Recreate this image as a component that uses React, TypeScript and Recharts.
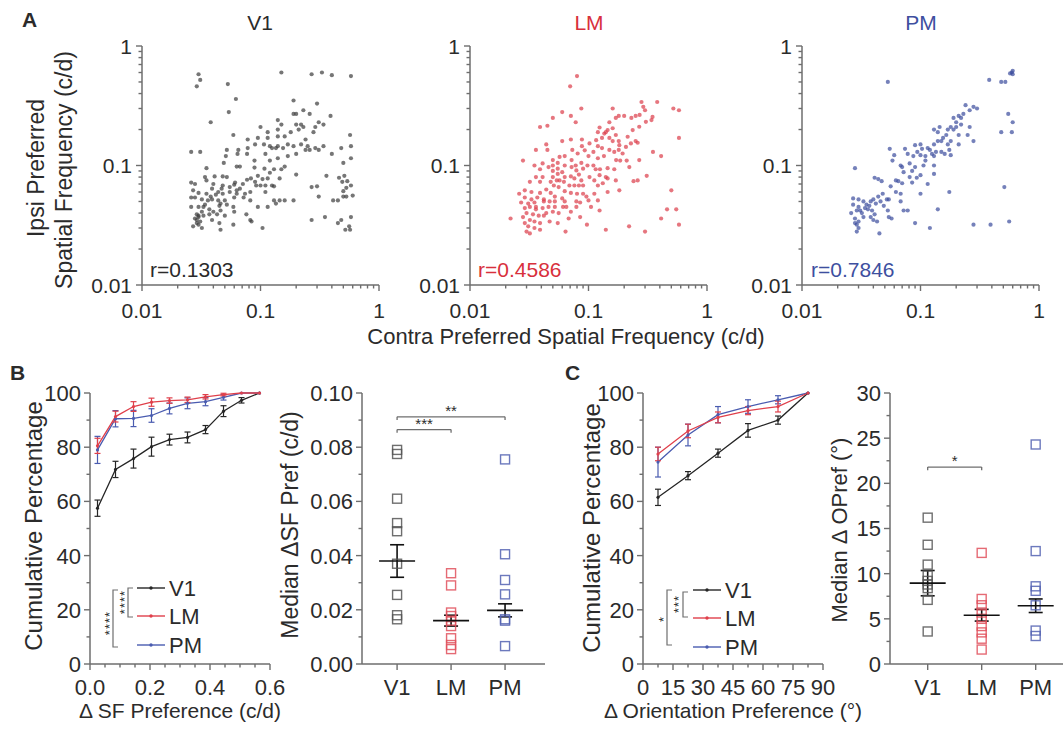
import React from 'react';
import { ScatterChart, Scatter, XAxis, YAxis, ComposedChart, Line, ErrorBar, ReferenceLine } from 'recharts';

const FONT = "Arial, 'Liberation Sans', Helvetica, sans-serif";
const AXIS = '#6e6e6e';
const TEXT = '#2b2b2b';
const RED = '#d8303c';
const BLUE = '#3e4f9f';
const DARK = '#262626';

// ---------- Panel A : contra vs ipsi preferred SF (c/d) ----------
const v1Pairs: [number, number][] = [
  [0.03,0.58],[0.031,0.52],[0.029,0.46],[0.053,0.48],[0.062,0.36],[0.15,0.6],[0.27,0.58],[0.33,0.6],[0.4,0.57],[0.58,0.56],
  [0.038,0.23],[0.054,0.28],[0.19,0.35],[0.3,0.33],[0.19,0.27],[0.2,0.27],[0.23,0.29],[0.26,0.27],[0.39,0.26],[0.31,0.23],
  [0.34,0.22],[0.29,0.21],[0.14,0.24],[0.15,0.22],[0.2,0.22],[0.22,0.22],[0.23,0.21],[0.21,0.2],[0.18,0.19],[0.1,0.21],
  [0.115,0.19],[0.14,0.2],[0.57,0.18],[0.059,0.18],[0.078,0.165],[0.095,0.17],[0.115,0.17],[0.14,0.175],[0.16,0.175],
  [0.107,0.15],[0.12,0.145],[0.125,0.14],[0.135,0.14],[0.14,0.145],[0.155,0.14],[0.17,0.15],[0.19,0.145],[0.22,0.15],
  [0.24,0.135],[0.26,0.135],[0.31,0.135],[0.34,0.145],[0.4,0.125],[0.48,0.14],[0.58,0.145],[0.052,0.135],[0.065,0.135],
  [0.078,0.14],[0.09,0.15],[0.026,0.13],[0.031,0.13],[0.051,0.12],[0.064,0.125],[0.077,0.125],[0.089,0.11],[0.11,0.125],
  [0.12,0.11],[0.14,0.115],[0.58,0.115],[0.5,0.105],[0.035,0.095],[0.049,0.105],[0.063,0.098],[0.067,0.098],[0.089,0.096],
  [0.108,0.094],[0.13,0.093],[0.15,0.093],[0.2,0.084],[0.048,0.081],[0.041,0.081],[0.034,0.08],[0.026,0.072],[0.028,0.07],
  [0.035,0.075],[0.04,0.07],[0.048,0.068],[0.052,0.08],[0.061,0.072],[0.077,0.076],[0.083,0.078],[0.09,0.073],[0.104,0.077],
  [0.115,0.078],[0.145,0.078],[0.092,0.068],[0.1,0.068],[0.11,0.068],[0.125,0.068],[0.13,0.067],[0.11,0.06],[0.082,0.06],
  [0.074,0.058],[0.063,0.062],[0.06,0.069],[0.055,0.06],[0.048,0.058],[0.044,0.06],[0.039,0.064],[0.035,0.058],[0.03,0.059],
  [0.027,0.062],[0.026,0.054],[0.028,0.054],[0.032,0.052],[0.036,0.051],[0.039,0.052],[0.044,0.051],[0.046,0.048],[0.05,0.051],
  [0.06,0.054],[0.063,0.058],[0.072,0.054],[0.082,0.051],[0.13,0.051],[0.145,0.051],[0.16,0.051],[0.19,0.051],[0.27,0.066],
  [0.3,0.067],[0.36,0.082],[0.46,0.079],[0.49,0.073],[0.51,0.082],[0.54,0.074],[0.58,0.068],[0.53,0.065],[0.5,0.061],
  [0.6,0.056],[0.53,0.055],[0.5,0.055],[0.31,0.055],[0.41,0.051],[0.45,0.051],[0.026,0.045],[0.03,0.045],[0.033,0.045],
  [0.037,0.043],[0.045,0.046],[0.052,0.047],[0.059,0.045],[0.095,0.045],[0.115,0.045],[0.135,0.048],[0.046,0.042],[0.04,0.041],
  [0.06,0.041],[0.029,0.039],[0.03,0.038],[0.033,0.038],[0.037,0.039],[0.043,0.039],[0.05,0.038],[0.076,0.039],[0.082,0.035],
  [0.029,0.035],[0.031,0.034],[0.039,0.035],[0.045,0.033],[0.059,0.032],[0.03,0.032],[0.027,0.031],[0.032,0.03],[0.046,0.029],
  [0.084,0.034],[0.104,0.03],[0.27,0.035],[0.35,0.037],[0.45,0.033],[0.48,0.035],[0.58,0.037],[0.56,0.031],[0.52,0.029],[0.57,0.029],
  [0.028,0.036],[0.03,0.037],[0.029,0.033],[0.032,0.041],[0.034,0.047],[0.038,0.055],[0.042,0.057],[0.047,0.064],[0.055,0.066],
  [0.067,0.064],[0.071,0.07],[0.095,0.082],[0.12,0.087],[0.16,0.098],[0.17,0.12],[0.2,0.125],[0.24,0.165],[0.28,0.19],
  [0.25,0.145],[0.29,0.14],
];

const lmPairs: [number, number][] = [
  [0.08,0.56],[0.07,0.46],[0.087,0.3],[0.06,0.28],[0.05,0.25],[0.071,0.26],[0.078,0.23],[0.039,0.21],[0.045,0.215],
  [0.16,0.3],[0.17,0.25],[0.18,0.26],[0.2,0.26],[0.23,0.25],[0.25,0.26],[0.27,0.265],[0.28,0.34],[0.29,0.31],[0.3,0.29],
  [0.34,0.24],[0.38,0.34],[0.52,0.3],[0.58,0.29],[0.58,0.17],[0.41,0.12],[0.35,0.13],[0.25,0.16],[0.26,0.155],
  [0.15,0.23],[0.16,0.205],[0.14,0.19],[0.12,0.19],[0.17,0.18],[0.15,0.17],[0.13,0.17],[0.16,0.16],[0.18,0.16],
  [0.12,0.145],[0.13,0.14],[0.15,0.135],[0.165,0.13],[0.18,0.135],[0.11,0.13],[0.1,0.12],[0.12,0.115],[0.135,0.12],
  [0.21,0.11],[0.185,0.11],[0.088,0.145],[0.088,0.165],[0.071,0.165],[0.06,0.16],[0.044,0.15],[0.036,0.135],[0.028,0.11],
  [0.035,0.1],[0.039,0.093],[0.036,0.08],[0.041,0.08],[0.045,0.135],[0.05,0.09],
  [0.055,0.105],[0.063,0.12],[0.073,0.135],[0.078,0.1],[0.087,0.105],[0.098,0.1],[0.11,0.1],[0.115,0.093],[0.125,0.093],
  [0.145,0.095],[0.165,0.093],[0.145,0.078],[0.17,0.075],[0.26,0.075],[0.24,0.074],[0.31,0.082],[0.5,0.062],[0.46,0.043],
  [0.55,0.043],[0.58,0.032],[0.41,0.036],[0.3,0.028],[0.22,0.031],[0.14,0.029],[0.097,0.032],[0.085,0.037],[0.068,0.036],
  [0.064,0.028],[0.022,0.036],
  [0.05,0.08],[0.055,0.085],[0.06,0.088],[0.063,0.08],[0.071,0.081],[0.076,0.078],[0.083,0.084],[0.057,0.075],[0.062,0.073],
  [0.069,0.068],[0.076,0.068],[0.083,0.068],[0.09,0.068],[0.048,0.073],[0.051,0.068],[0.056,0.066],[0.063,0.061],[0.071,0.059],
  [0.08,0.058],[0.09,0.058],[0.044,0.063],[0.048,0.059],[0.052,0.055],[0.06,0.053],[0.039,0.059],[0.037,0.054],[0.042,0.052],
  [0.047,0.05],[0.052,0.05],[0.063,0.05],[0.085,0.049],[0.1,0.051],[0.12,0.051],[0.145,0.06],[0.12,0.068],[0.029,0.054],
  [0.033,0.052],[0.035,0.049],[0.032,0.045],[0.029,0.044],[0.036,0.043],[0.041,0.044],[0.046,0.045],[0.05,0.041],[0.056,0.04],
  [0.071,0.041],[0.03,0.04],[0.034,0.039],[0.038,0.038],[0.042,0.038],[0.028,0.037],[0.032,0.035],[0.035,0.034],[0.039,0.033],
  [0.047,0.034],[0.055,0.033],[0.029,0.033],[0.031,0.031],[0.035,0.03],[0.039,0.029],[0.03,0.028],[0.032,0.027],[0.042,0.05],
  [0.027,0.049],[0.031,0.048],[0.054,0.075],[0.087,0.075],
  [0.124,0.208],[0.136,0.185],[0.145,0.198],[0.116,0.163],[0.102,0.153],[0.093,0.134],[0.081,0.126],[0.072,0.111],[0.063,0.1],
  [0.057,0.118],[0.05,0.111],[0.046,0.097],[0.041,0.104],[0.039,0.073],[0.032,0.073],[0.029,0.062],[0.026,0.058],[0.033,0.06],
  [0.036,0.045],[0.044,0.04],[0.052,0.045],[0.061,0.045],[0.079,0.05],[0.096,0.055],[0.112,0.058],[0.079,0.045],[0.105,0.045],
  [0.112,0.075],[0.102,0.08],[0.124,0.083],[0.14,0.08],[0.132,0.071],[0.171,0.111],[0.194,0.126],[0.207,0.143],[0.228,0.153],
  [0.182,0.148],[0.214,0.174],[0.236,0.198],[0.268,0.211],[0.305,0.232],[0.347,0.255],[0.221,0.097],[0.268,0.111],[0.182,0.062],
  [0.124,0.042],[0.065,0.045],[0.09,0.094],[0.079,0.091],[0.072,0.097],[0.055,0.094],[0.05,0.1],
];

const pmPairs: [number, number][] = [
  [0.6,0.62],[0.59,0.6],[0.57,0.59],[0.6,0.58],[0.52,0.5],[0.48,0.5],[0.38,0.52],[0.053,0.5],[0.55,0.27],[0.6,0.23],
  [0.59,0.19],[0.48,0.19],[0.51,0.066],[0.56,0.034],[0.39,0.032],[0.28,0.032],[0.12,0.03],[0.09,0.033],[0.045,0.027],
  [0.24,0.32],[0.28,0.31],[0.3,0.3],[0.26,0.29],[0.21,0.26],[0.23,0.27],[0.19,0.25],[0.2,0.23],[0.22,0.22],[0.18,0.21],
  [0.26,0.21],[0.17,0.2],[0.19,0.2],[0.145,0.21],[0.13,0.2],[0.14,0.19],[0.21,0.18],[0.25,0.18],[0.28,0.16],[0.18,0.16],
  [0.21,0.15],[0.155,0.17],[0.14,0.16],[0.13,0.15],[0.115,0.14],[0.1,0.15],[0.09,0.148],[0.103,0.138],[0.094,0.13],
  [0.125,0.125],[0.135,0.13],[0.15,0.13],[0.16,0.125],[0.175,0.135],[0.18,0.122],[0.13,0.12],[0.11,0.12],[0.1,0.122],
  [0.087,0.12],[0.078,0.125],[0.074,0.138],[0.055,0.138],[0.06,0.122],[0.058,0.11],[0.068,0.1],[0.07,0.097],[0.081,0.104],
  [0.09,0.097],[0.106,0.1],[0.13,0.1],[0.13,0.085],[0.1,0.083],[0.081,0.08],[0.093,0.079],[0.028,0.095],
  [0.041,0.079],[0.044,0.077],[0.047,0.074],[0.065,0.074],[0.07,0.071],[0.068,0.058],[0.062,0.06],[0.085,0.072],[0.115,0.07],
  [0.175,0.06],[0.1,0.058],[0.068,0.05],[0.078,0.042],[0.072,0.042],[0.054,0.052],[0.052,0.052],[0.046,0.05],[0.042,0.048],
  [0.039,0.042],[0.03,0.045],[0.027,0.053],[0.03,0.052],[0.033,0.05],[0.035,0.047],[0.038,0.05],[0.029,0.042],[0.031,0.042],
  [0.036,0.043],[0.041,0.039],[0.038,0.037],[0.04,0.035],[0.043,0.034],[0.053,0.042],[0.054,0.037],[0.057,0.036],[0.028,0.036],
  [0.03,0.034],[0.029,0.032],[0.03,0.03],[0.028,0.033],[0.033,0.037],[0.049,0.046],[0.14,0.043],
  [0.032,0.04],[0.034,0.044],[0.037,0.046],[0.04,0.052],[0.044,0.055],[0.048,0.058],[0.056,0.067],[0.062,0.075],[0.072,0.088],
  [0.085,0.09],[0.11,0.11],[0.12,0.135],[0.15,0.16],[0.165,0.18],[0.2,0.21],[0.22,0.25],[0.17,0.15],[0.026,0.04],[0.027,0.047],
  [0.029,0.028],
];

const logTicks = [0.01,0.02,0.03,0.04,0.05,0.06,0.07,0.08,0.09,0.1,0.2,0.3,0.4,0.5,0.6,0.7,0.8,0.9,1];
const rValues = ['r=0.1303', 'r=0.4586', 'r=0.7846'];

// ---------- Panel B : SF cumulative ----------
const sfBins = [0.025, 0.085, 0.145, 0.205, 0.265, 0.325, 0.385, 0.445, 0.505, 0.565];
const sfV1 = [57.5, 71.8, 75.8, 80.2, 82.8, 83.6, 86.5, 93.3, 97.3, 100];
const sfV1Err = [3, 3, 3.5, 3.5, 2, 2, 1.5, 2, 1, 0];
const sfLM = [80.5, 91.3, 95, 96.6, 97.2, 97.5, 98.6, 99.4, 100, 100];
const sfLMErr = [2.8, 2, 1.8, 1.5, 1, 1, 0.8, 0.5, 0, 0];
const sfPM = [79, 90.5, 90.6, 91.7, 94.3, 96.2, 96.8, 98.4, 100, 100];
const sfPMErr = [5, 3, 3, 2.5, 2, 2, 1.5, 1, 0, 0];
const sfXTicks = [0, 0.05, 0.1, 0.15, 0.2, 0.25, 0.3, 0.35, 0.4, 0.45, 0.5, 0.55, 0.6];

// ---------- Panel B : median dSF per animal ----------
const groups = ['V1', 'LM', 'PM'];
const sfMedV1 = [0.079, 0.0775, 0.061, 0.052, 0.049, 0.037, 0.0255, 0.018, 0.0165];
const sfMedLM = [0.0335, 0.029, 0.019, 0.0177, 0.016, 0.014, 0.0095, 0.007, 0.0055];
const sfMedPM = [0.0755, 0.0405, 0.031, 0.0257, 0.0165, 0.016, 0.0066];
const sfMean = [0.038, 0.016, 0.0198];
const sfSem = [0.006, 0.002, 0.0024];
const sfMedTicks = [0, 0.01, 0.02, 0.03, 0.04, 0.05, 0.06, 0.07, 0.08, 0.09, 0.1];

// ---------- Panel C : orientation cumulative ----------
const oriBins = [7.5, 22.5, 37.5, 52.5, 67.5, 82.5];
const oriV1 = [61.5, 69.5, 77.8, 86.2, 90, 100];
const oriV1Err = [3, 1.5, 1.5, 2.5, 1.5, 0];
const oriLM = [77.5, 86, 91, 93.5, 95, 100];
const oriLMErr = [2.5, 2.5, 2, 1.5, 2, 0];
const oriPM = [74.5, 84.5, 92, 95, 97.5, 100];
const oriPMErr = [5.5, 4, 3, 2.5, 1.5, 0];
const oriXTicks = [0, 7.5, 15, 22.5, 30, 37.5, 45, 52.5, 60, 67.5, 75, 82.5, 90];
const pctTicks = [0, 10, 20, 30, 40, 50, 60, 70, 80, 90, 100];

// ---------- Panel C : median dOri per animal ----------
const oriMedV1 = [16.2, 13.2, 11.0, 9.8, 9.2, 8.8, 8.4, 7.1, 3.6];
const oriMedLM = [12.3, 7.2, 6.5, 5.7, 5.0, 4.2, 3.5, 2.8, 1.6];
const oriMedPM = [24.3, 12.5, 8.6, 8.1, 6.5, 3.7, 3.1];
const oriMean = [8.95, 5.4, 6.45];
const oriSem = [1.4, 0.65, 0.75];
const oriMedTicks = [0, 2.5, 5, 7.5, 10, 12.5, 15, 17.5, 20, 22.5, 25, 27.5, 30];

// ---------- helpers ----------
type TickOpts = { label: (v: number) => string | null; fs: number; off: number };

const xTick = (o: TickOpts) => (p: any) => {
  const v = p.payload.value;
  const lab = o.label(v);
  const major = lab !== null;
  return (
    <g>
      <line x1={p.x} x2={p.x} y1={p.y} y2={p.y + (major ? 6 : 3.5)} stroke={AXIS} strokeWidth={1.4} />
      {major && (
        <text x={p.x} y={p.y + o.off} textAnchor="middle" fontSize={o.fs} fontFamily={FONT} fill={TEXT}>{lab}</text>
      )}
    </g>
  );
};

const yTick = (o: TickOpts) => (p: any) => {
  const v = p.payload.value;
  const lab = o.label(v);
  const major = lab !== null;
  return (
    <g>
      <line x1={p.x - (major ? 6 : 3.5)} x2={p.x} y1={p.y} y2={p.y} stroke={AXIS} strokeWidth={1.4} />
      {major && (
        <text x={p.x - o.off} y={p.y} dy="0.36em" textAnchor="end" fontSize={o.fs} fontFamily={FONT} fill={TEXT}>{lab}</text>
      )}
    </g>
  );
};

const isDecade = (v: number) => Math.abs(Math.log10(v) - Math.round(Math.log10(v))) < 1e-6;
const logLabel = (v: number) => (isDecade(v) ? (v >= 1 ? '1' : v >= 0.1 ? '0.1' : '0.01') : null);
const everyN = (n: number, digits: number) => (v: number) =>
  Math.abs(v / n - Math.round(v / n)) < 1e-6 ? v.toFixed(digits) : null;

const axisLine = { stroke: AXIS, strokeWidth: 1.5 };

function LogScatter({ left, pairs, color }: { left: number; pairs: [number, number][]; color: string }) {
  const data = pairs.map(([x, y]) => ({ x, y }));
  return (
    <div style={{ position: 'absolute', left, top: 0 }}>
      <ScatterChart width={328} height={325} margin={{ top: 46, right: 9, bottom: 0, left: 0 }}>
        <XAxis type="number" dataKey="x" scale="log" domain={[0.01, 1]} allowDataOverflow ticks={logTicks} interval={0}
          tickLine={false} tickSize={0} tickMargin={0} axisLine={axisLine} height={40}
          tick={xTick({ label: logLabel, fs: 21, off: 33 })} />
        <YAxis type="number" dataKey="y" scale="log" domain={[0.01, 1]} allowDataOverflow ticks={logTicks} interval={0}
          tickLine={false} tickSize={0} tickMargin={0} axisLine={axisLine} width={82}
          tick={yTick({ label: logLabel, fs: 21, off: 10 })} />
        <Scatter data={data} isAnimationActive={false}
          shape={(p: any) => <circle cx={p.cx} cy={p.cy} r={2.1} fill={color} fillOpacity={0.7} />} />
      </ScatterChart>
    </div>
  );
}

function CumChart({ left, yw, bins, series, xTicks, xLabel, xMax }: any) {
  const data = bins.map((x: number, i: number) => ({
    x,
    v1: series[0][0][i], v1e: series[0][1][i],
    lm: series[1][0][i], lme: series[1][1][i],
    pm: series[2][0][i], pme: series[2][1][i],
  }));
  const lines = [
    { k: 'v1', c: DARK },
    { k: 'pm', c: '#4a5cb0' },
    { k: 'lm', c: '#e0404b' },
  ];
  return (
    <div style={{ position: 'absolute', left, top: 360 }}>
      <ComposedChart width={yw + 200} height={374} data={data} margin={{ top: 33, right: 20, bottom: 0, left: 0 }}>
        <XAxis type="number" dataKey="x" domain={[0, xMax]} ticks={xTicks} interval={0} allowDataOverflow
          tickLine={false} tickSize={0} tickMargin={0} axisLine={axisLine} height={70}
          tick={xTick({ label: xLabel, fs: 22, off: 31 })} />
        <YAxis type="number" domain={[0, 100]} ticks={pctTicks} interval={0}
          tickLine={false} tickSize={0} tickMargin={0} axisLine={axisLine} width={yw}
          tick={yTick({ label: everyN(20, 0), fs: 22, off: 9 })} />
        {lines.map((l) => (
          <Line key={l.k} dataKey={l.k} stroke={l.c} strokeWidth={1.3} isAnimationActive={false}
            dot={{ r: 1.6, fill: l.c, stroke: l.c, strokeWidth: 0 }} activeDot={false}>
            <ErrorBar dataKey={l.k + 'e'} direction="y" width={3} stroke={l.c} strokeWidth={1.2} />
          </Line>
        ))}
      </ComposedChart>
    </div>
  );
}

const squareShape = (color: string) => (p: any) => (
  <rect x={p.cx - 4.5} y={p.cy - 4.5} width={9} height={9} fill="none" stroke={color} strokeWidth={1.4} strokeOpacity={0.85} />
);
const meanShape = (p: any) => (
  <line x1={p.cx - 18} x2={p.cx + 18} y1={p.cy} y2={p.cy} stroke="#111" strokeWidth={1.6} />
);

function DotChart({ left, yw, plotW, domainX, vals, means, sems, yMax, yTicks, yLabel, sig }: any) {
  const colors = ['#555555', '#e0505c', '#5262b2'];
  const meanData = means.map((m: number, i: number) => ({ x: i + 1, y: m, e: sems[i] }));
  return (
    <div style={{ position: 'absolute', left, top: 360 }}>
      <ScatterChart width={yw + plotW} height={374} margin={{ top: 33, right: 0, bottom: 0, left: 0 }}>
        <XAxis type="number" dataKey="x" domain={domainX} allowDataOverflow ticks={[1, 2, 3]} interval={0}
          tickLine={false} tickSize={0} tickMargin={0} axisLine={axisLine} height={70}
          tick={xTick({ label: (v) => groups[Math.round(v) - 1], fs: 22, off: 31 })} />
        <YAxis type="number" dataKey="y" domain={[0, yMax]} allowDataOverflow ticks={yTicks} interval={0}
          tickLine={false} tickSize={0} tickMargin={0} axisLine={axisLine} width={yw}
          tick={yTick({ label: yLabel, fs: 22, off: 9 })} />
        {vals.map((arr: number[], gi: number) => (
          <Scatter key={gi} data={arr.map((y) => ({ x: gi + 1, y }))} isAnimationActive={false} shape={squareShape(colors[gi])} />
        ))}
        <Scatter data={meanData} isAnimationActive={false} shape={meanShape}>
          <ErrorBar dataKey="e" direction="y" width={7} stroke="#111" strokeWidth={1.6} />
        </Scatter>
        {sig.map((s: any, i: number) => (
          <ReferenceLine key={'h' + i} segment={[{ x: s.from, y: s.y }, { x: s.to, y: s.y }]} stroke={AXIS} strokeWidth={1.3}
            ifOverflow="visible"
            label={{ value: s.text, position: 'top', offset: 1, fontSize: 15, fill: TEXT, fontFamily: FONT }} />
        ))}
        {sig.map((s: any, i: number) => (
          <ReferenceLine key={'a' + i} segment={[{ x: s.from, y: s.y }, { x: s.from, y: s.y - s.drop }]} stroke={AXIS} strokeWidth={1.3} ifOverflow="visible" />
        ))}
        {sig.map((s: any, i: number) => (
          <ReferenceLine key={'b' + i} segment={[{ x: s.to, y: s.y }, { x: s.to, y: s.y - s.drop }]} stroke={AXIS} strokeWidth={1.3} ifOverflow="visible" />
        ))}
      </ScatterChart>
    </div>
  );
}

const legendItems = [
  { name: 'V1', color: DARK },
  { name: 'LM', color: '#e0404b' },
  { name: 'PM', color: '#4a5cb0' },
];

function Legend({ x0, x1, ys }: { x0: number; x1: number; ys: number[] }) {
  return (
    <g>
      {legendItems.map((it, i) => (
        <g key={it.name}>
          <line x1={x0} x2={x1} y1={ys[i]} y2={ys[i]} stroke={it.color} strokeWidth={1.4} />
          <circle cx={(x0 + x1) / 2} cy={ys[i]} r={1.7} fill={it.color} />
          <text x={x1 + 4} y={ys[i]} dy="0.36em" fontSize={22} fontFamily={FONT} fill={TEXT}>{it.name}</text>
        </g>
      ))}
    </g>
  );
}

function VStars({ x, y, text }: { x: number; y: number; text: string }) {
  return (
    <text x={x} y={y} transform={`rotate(-90 ${x} ${y})`} textAnchor="middle" dy="0.55em" fontSize={13}
      fontFamily={FONT} fill={TEXT} letterSpacing={1}>{text}</text>
  );
}

function Bracket({ x, y1, y2 }: { x: number; y1: number; y2: number }) {
  return <path d={`M${x + 5},${y1} H${x} V${y2} H${x + 5}`} fill="none" stroke={AXIS} strokeWidth={1.2} />;
}

function VTitle({ x, y, text, size }: { x: number; y: number; text: string; size: number }) {
  return (
    <text x={x} y={y} transform={`rotate(-90 ${x} ${y})`} textAnchor="middle" dy="0.36em" fontSize={size}
      fontFamily={FONT} fill={TEXT}>{text}</text>
  );
}

function Overlay() {
  const T = (p: any) => <text fontFamily={FONT} fill={TEXT} {...p} />;
  return (
    <svg width={1063} height={734} style={{ position: 'absolute', left: 0, top: 0, pointerEvents: 'none' }}>
      <T x={22} y={27} fontSize={21} fontWeight="bold">A</T>
      <T x={10} y={380} fontSize={21} fontWeight="bold">B</T>
      <T x={565} y={380} fontSize={21} fontWeight="bold">C</T>

      <T x={260} y={30} fontSize={21} textAnchor="middle">V1</T>
      <T x={589} y={30} fontSize={21} textAnchor="middle" fill={RED}>LM</T>
      <T x={921} y={30} fontSize={21} textAnchor="middle" fill={BLUE}>PM</T>

      <T x={150} y={277} fontSize={21}>{rValues[0]}</T>
      <T x={478} y={277} fontSize={21} fill={RED}>{rValues[1]}</T>
      <T x={811} y={277} fontSize={21} fill={BLUE}>{rValues[2]}</T>

      <VTitle x={36} y={168} text="Ipsi Preferred" size={23} />
      <VTitle x={64} y={170} text="Spatial Frequency (c/d)" size={23} />
      <T x={566} y={344} fontSize={22} textAnchor="middle">Contra Preferred Spatial Frequency (c/d)</T>

      <VTitle x={33} y={526} text="Cumulative Percentage" size={24} />
      <T x={180} y={718} fontSize={21} textAnchor="middle">Δ SF Preference (c/d)</T>
      <VTitle x={290} y={525} text="Median ΔSF Pref (c/d)" size={23} />

      <VTitle x={591} y={528} text="Cumulative Percentage" size={24} />
      <T x={733} y={718} fontSize={21} textAnchor="middle">Δ Orientation Preference (°)</T>
      <VTitle x={839} y={530} text="Median Δ OPref (°)" size={22} />

      <Legend x0={137} x1={165} ys={[588, 616, 645]} />
      <Bracket x={128} y1={588} y2={617} />
      <VStars x={122} y={602} text="****" />
      <Bracket x={113} y1={590} y2={647} />
      <VStars x={107} y={623} text="****" />

      <Legend x0={693} x1={721} ys={[590, 618, 647]} />
      <Bracket x={683} y1={592} y2={617} />
      <VStars x={676} y={604} text="***" />
      <Bracket x={667} y1={590} y2={645} />
      <VStars x={661} y={619} text="*" />
    </svg>
  );
}

export default function App() {
  return (
    <div style={{ position: 'absolute', left: 0, top: 0, width: 1063, height: 734, background: '#fff', overflow: 'hidden', fontFamily: FONT }}>
      <LogScatter left={60} pairs={v1Pairs} color="#3c3c3c" />
      <LogScatter left={388} pairs={lmPairs} color="#dc3c48" />
      <LogScatter left={720} pairs={pmPairs} color="#3a4c9c" />

      <DotChart left={280} yw={82} plotW={183} domainX={[0.35, 3.74]}
        vals={[sfMedV1, sfMedLM, sfMedPM]} means={sfMean} sems={sfSem} yMax={0.1} yTicks={sfMedTicks}
        yLabel={everyN(0.02, 2)}
        sig={[{ from: 1, to: 2, y: 0.0865, drop: 0.0012, text: '***' }, { from: 1, to: 3, y: 0.0912, drop: 0.0012, text: '**' }]} />
      <DotChart left={820} yw={70} plotW={173} domainX={[0.302, 3.506]}
        vals={[oriMedV1, oriMedLM, oriMedPM]} means={oriMean} sems={oriSem} yMax={30} yTicks={oriMedTicks}
        yLabel={everyN(5, 0)}
        sig={[{ from: 1, to: 2, y: 21.8, drop: 0.35, text: '*' }]} />

      <CumChart left={0} yw={90} bins={sfBins}
        series={[[sfV1, sfV1Err], [sfLM, sfLMErr], [sfPM, sfPMErr]]}
        xTicks={sfXTicks} xLabel={everyN(0.2, 1)} xMax={0.6} />
      <CumChart left={540} yw={103} bins={oriBins}
        series={[[oriV1, oriV1Err], [oriLM, oriLMErr], [oriPM, oriPMErr]]}
        xTicks={oriXTicks} xLabel={everyN(15, 0)} xMax={90} />

      <Overlay />
    </div>
  );
}
